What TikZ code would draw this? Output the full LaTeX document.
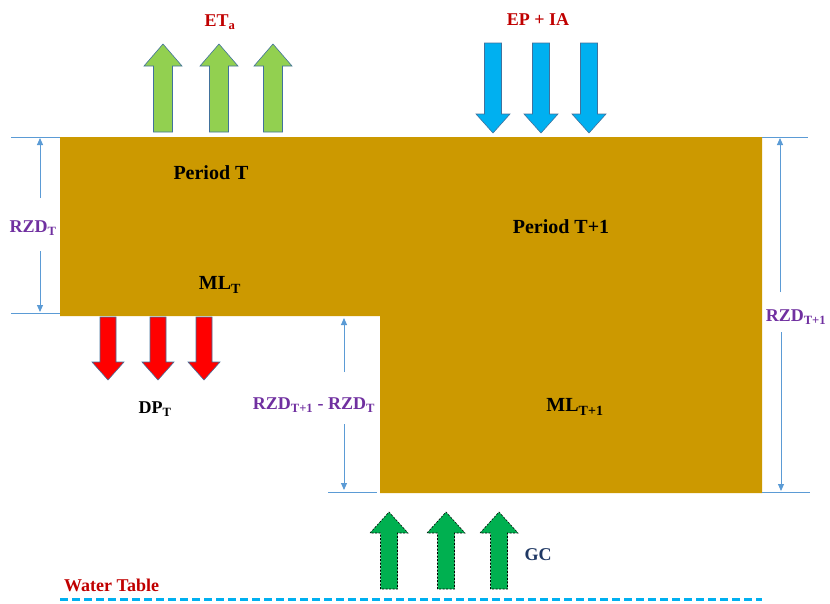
\documentclass[tikz,border=0pt]{standalone}
\usepackage{fontspec}
\setmainfont{Liberation Serif}
\usetikzlibrary{arrows.meta}
\definecolor{soil}{HTML}{CC9900}
\definecolor{dimblue}{HTML}{5B9BD5}
\definecolor{rzdpurple}{HTML}{7030A0}
\definecolor{darkred}{HTML}{C00000}
\definecolor{lightgreen}{HTML}{92D050}
\definecolor{skyblue}{HTML}{00B0F0}
\definecolor{gcgreen}{HTML}{00B050}
\definecolor{navy}{HTML}{1F3864}
\definecolor{outl}{HTML}{41719C}
\newcommand{\blockarr}[7]{% style, x, ytail, ybase, ytip, shaft hw, head hw
  \path[#1] (#2-#6,#3) -- (#2-#6,#4) -- (#2-#7,#4) -- (#2,#5) -- (#2+#7,#4) -- (#2+#6,#4) -- (#2+#6,#3) -- cycle;}
\tikzset{
  txt/.style={font=\fontsize{20}{24}\selectfont\bfseries, inner sep=0pt},
  lbl/.style={font=\fontsize{18}{22}\selectfont\bfseries, inner sep=0pt},
  dimline/.style={draw=dimblue, line width=0.9pt},
  dimarrow/.style={draw=dimblue, line width=0.9pt, -{Triangle[length=7pt,width=6pt]}},
  etarr/.style={fill=lightgreen, draw=outl, line width=0.6pt},
  eparr/.style={fill=skyblue, draw=outl, line width=0.6pt},
  dparr/.style={fill=red, draw=outl, line width=0.6pt},
  gcarr/.style={fill=gcgreen, draw=black, line width=0.6pt, dash pattern=on 2pt off 1.5pt},
}
\begin{document}
\begin{tikzpicture}[x=1pt,y=-1pt]
\useasboundingbox (0,0) rectangle (830,603);
% soil body
\fill[soil] (60,137) -- (762,137) -- (762,493) -- (380,493) -- (380,316) -- (60,316) -- cycle;
% texts in soil
\node[txt] (pT) at (211,173) {Period T};
\node[txt] (mlT) at (220,285) {ML\textsubscript{T}};
\node[txt] (pT1) at (561,227) {Period T+1};
\node[txt] (mlT1) at (575,407) {ML\textsubscript{T+1}};
% ET arrows
\blockarr{etarr}{163}{132}{66}{44}{9.5}{19}
\blockarr{etarr}{219}{132}{66}{44}{9.5}{19}
\blockarr{etarr}{273}{132}{66}{44}{9.5}{19}
\node[lbl, text=darkred] (eta) at (220,22) {ET\textsubscript{a}};
% EP+IA arrows
\blockarr{eparr}{493}{43}{114}{133}{8.5}{17}
\blockarr{eparr}{541}{43}{114}{133}{8.5}{17}
\blockarr{eparr}{589}{43}{114}{133}{8.5}{17}
\node[lbl, text=darkred] (epia) at (538,20) {EP + IA};
% DP arrows
\blockarr{dparr}{108}{317}{362}{380}{8}{16}
\blockarr{dparr}{158}{317}{362}{380}{8}{16}
\blockarr{dparr}{204}{317}{362}{380}{8}{16}
\node[lbl, text=black] (dp) at (155,409) {DP\textsubscript{T}};
% GC arrows
\blockarr{gcarr}{389}{589}{533}{512}{8.5}{19}
\blockarr{gcarr}{446}{589}{533}{512}{8.5}{19}
\blockarr{gcarr}{499}{589}{533}{512}{8.5}{19}
\node[lbl, text=navy] (gc) at (538,555) {GC};
% water table
\coordinate (wt1) at (60,599);
\coordinate (wt2) at (762,599);
\draw[skyblue, line width=3pt, dash pattern=on 8pt off 4pt] (wt1) -- (wt2);
\node[lbl, text=darkred, anchor=west] (wtl) at (64,585) {Water Table};
% left dimension RZD_T
\coordinate (l1a) at (11,137); \coordinate (l1b) at (60,137);
\coordinate (l2a) at (11,313); \coordinate (l2b) at (60,313);
\draw[dimline] (l1a) -- (l1b);
\draw[dimline] (l2a) -- (l2b);
\node[lbl, text=rzdpurple] (rzdT) at (33,228) {RZD\textsubscript{T}};
\coordinate (lt) at (40,138); \coordinate (lb) at (40,312);
\coordinate (lgt) at (40,198); \coordinate (lgb) at (40,251);
\draw[dimarrow] (lgt) -- (lt);
\draw[dimarrow] (lgb) -- (lb);
% middle dimension
\coordinate (m2a) at (328,492); \coordinate (m2b) at (377,492);
\draw[dimline] (m2a) -- (m2b);
\node[lbl, text=rzdpurple] (rzdd) at (314,405) {RZD\textsubscript{T+1} - RZD\textsubscript{T}};
\coordinate (mt) at (344,318); \coordinate (mb) at (344,490);
\coordinate (mgt) at (344,372); \coordinate (mgb) at (344,424);
\draw[dimarrow] (mgt) -- (mt);
\draw[dimarrow] (mgb) -- (mb);
% right dimension
\coordinate (r1a) at (762,137); \coordinate (r1b) at (808,137);
\coordinate (r2a) at (762,492); \coordinate (r2b) at (810,492);
\draw[dimline] (r1a) -- (r1b);
\draw[dimline] (r2a) -- (r2b);
\node[lbl, text=rzdpurple] (rzdT1) at (796,317) {RZD\textsubscript{T+1}};
\coordinate (rt) at (780,138); \coordinate (rb) at (781,491);
\coordinate (rgt) at (780,292); \coordinate (rgb) at (781,332);
\draw[dimarrow] (rgt) -- (rt);
\draw[dimarrow] (rgb) -- (rb);
\end{tikzpicture}
\end{document}
